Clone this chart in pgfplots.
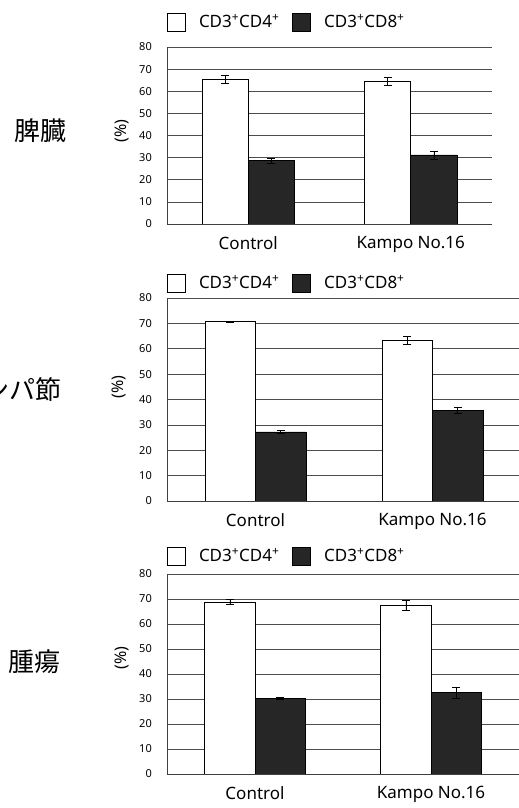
\documentclass[border=0pt]{standalone}
\usepackage{fontspec}
\setmainfont{Noto Sans}
\newfontfamily\cjk{Noto Sans CJK JP}
\usepackage{pgfplots}
\pgfplotsset{compat=1.18}
\pgfplotsset{
  panel/.style={
    anchor=south west, scale only axis,
    ybar=0pt, bar width=0.285,
    xmin=-0.5, xmax=1.5, ymin=0, ymax=80,
    xtick={0,1}, xticklabels={Control, Kampo No.16},
    ytick={0,10,...,80},
    ymajorgrids, major grid style={black!70, line width=0.6bp},
    axis x line*=bottom, axis y line*=left,
    axis line style={black!75, line width=0.7bp},
    major tick length=0pt,
    /pgf/number format/assume math mode=true,
    yticklabel style={font=\fontsize{11bp}{13bp}\selectfont, inner sep=0pt, xshift=-15bp},
    xticklabel style={font=\fontsize{17bp}{20bp}\selectfont, inner sep=0pt, yshift=-12bp, anchor=north},
    ylabel={(\%)},
    ylabel style={font=\fontsize{16bp}{18bp}\selectfont, anchor=center},
    legend columns=2,
    legend style={draw=none, fill=none, inner sep=0pt, anchor=west,
      font=\fontsize{17bp}{20bp}\selectfont,
      nodes={inner sep=0pt},
      /tikz/every odd column/.append style={column sep=13bp},
      /tikz/every even column/.append style={column sep=13bp}},
    legend image code/.code={\draw[#1] (0bp,-9bp) rectangle (18bp,9bp);},
    error bars/y dir=both, error bars/y explicit,
    error bars/error bar style={black, line width=0.7bp},
    error bars/error mark options={rotate=90, mark size=4bp, black, line width=0.7bp},
  },
  cdfour/.style={fill=white, draw=black, line width=0.8bp},
  cdeight/.style={fill=black!85, draw=black, line width=0.8bp},
}
\begin{document}
\begin{tikzpicture}
\useasboundingbox (0,0) rectangle (519bp,808bp);
% Panel 1: spleen
\begin{axis}[panel, at={(167bp,584bp)}, width=325bp, height=177bp,
  ylabel style={at={(axis description cs:-0.138,0.525)}},
  legend style={at={(axis description cs:0,1.141)}}]
\addplot[cdfour] table[x=x, y=y, y error=e] {
x y e
0 65.4 1.9
1 64.5 1.8
};
\addplot[cdeight] table[x=x, y=y, y error=e] {
x y e
0 28.6 1.2
1 31.2 1.8
};
\legend{CD3\textsuperscript{+}CD4\textsuperscript{+}, CD3\textsuperscript{+}CD8\textsuperscript{+}}
\end{axis}
% Panel 2: lymph node
\begin{axis}[panel, at={(167bp,307bp)}, width=354bp, height=203bp,
  ylabel style={at={(axis description cs:-0.136,0.56)}},
  legend style={at={(axis description cs:0,1.074)}}]
\addplot[cdfour] table[x=x, y=y, y error=e] {
x y e
0 70.6 0.3
1 63.3 1.6
};
\addplot[cdeight] table[x=x, y=y, y error=e] {
x y e
0 27.2 0.6
1 35.8 1.3
};
\legend{CD3\textsuperscript{+}CD4\textsuperscript{+}, CD3\textsuperscript{+}CD8\textsuperscript{+}}
\end{axis}
% Panel 3: tumor
\begin{axis}[panel, at={(167bp,34bp)}, width=352bp, height=200bp,
  ylabel style={at={(axis description cs:-0.128,0.58)}},
  legend style={at={(axis description cs:0,1.09)}}]
\addplot[cdfour] table[x=x, y=y, y error=e] {
x y e
0 68.8 0.9
1 67.3 2.0
};
\addplot[cdeight] table[x=x, y=y, y error=e] {
x y e
0 30.3 0.3
1 32.5 2.3
};
\legend{CD3\textsuperscript{+}CD4\textsuperscript{+}, CD3\textsuperscript{+}CD8\textsuperscript{+}}
\end{axis}
\node[font=\cjk\fontsize{26bp}{30bp}\selectfont, inner sep=0pt] at (40bp,677bp) {脾臓};
\node[font=\cjk\fontsize{26bp}{30bp}\selectfont, inner sep=0pt, anchor=east] at (62bp,419bp) {リンパ節};
\node[font=\cjk\fontsize{26bp}{30bp}\selectfont, inner sep=0pt] at (34bp,146bp) {腫瘍};
\end{tikzpicture}
\end{document}
